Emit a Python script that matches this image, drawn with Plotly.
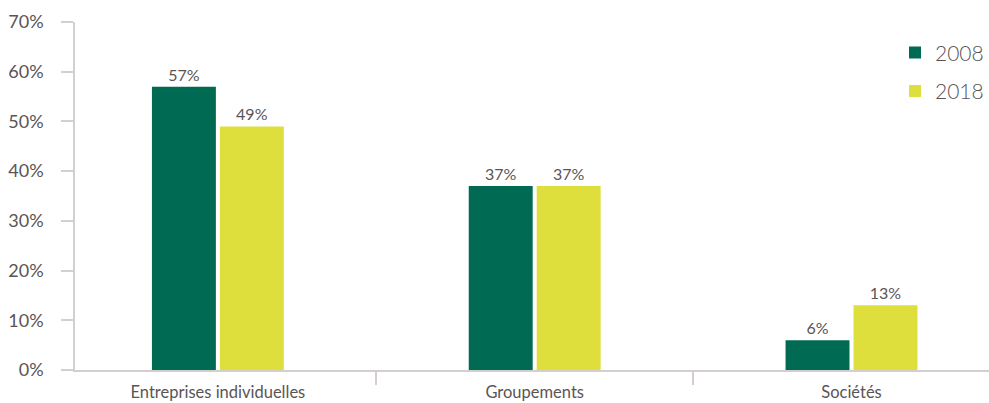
import plotly.graph_objects as go

categories = ["Entreprises individuelles", "Groupements", "Sociétés"]
values_2008 = [57, 37, 6]
values_2018 = [49, 37, 13]
series_names = ["2008", "2018"]
y_ticks = [0, 10, 20, 30, 40, 50, 60, 70]

GREEN = "#006A53"
YELLOW = "#DEDE3C"
TEXT = "#5A5555"
AXIS = "#D3CFCF"
FONT = "Lato, 'Open Sans', sans-serif"

fig = go.Figure()
for name, vals, col in [(series_names[0], values_2008, GREEN), (series_names[1], values_2018, YELLOW)]:
    fig.add_trace(go.Bar(
        name=name, x=categories, y=vals, marker=dict(color=col, line=dict(width=0)),
        text=[f"{v}%" for v in vals], textposition="outside",
        textfont=dict(size=16, color=TEXT, family=FONT), cliponaxis=False,
        legendgroup=name,
    ))

fig.update_layout(
    width=989, height=403,
    margin=dict(l=75, r=0, t=22, b=33, autoexpand=False),
    paper_bgcolor="white", plot_bgcolor="white",
    barmode="group", bargap=0.571, bargroupgap=0.059,
    font=dict(family=FONT, color=TEXT),
    legend=dict(x=1, xanchor="right", y=0.97, yanchor="top",
                font=dict(size=21, color=TEXT, weight=300),
                tracegroupgap=8, bgcolor="rgba(0,0,0,0)"),
    xaxis=dict(range=[-0.451, 2.434], showline=True, linecolor=AXIS, linewidth=1.5,
               ticks="outside", tickson="boundaries", ticklen=13, tickcolor=AXIS, tickwidth=1.5,
               ticklabelstandoff=6,
               tickfont=dict(size=16.5, color=TEXT), showgrid=False, zeroline=False),
    yaxis=dict(range=[0, 70], tickvals=y_ticks, ticktext=[f"{v}%" for v in y_ticks],
               showline=True, linecolor=AXIS, linewidth=1.5, ticks="outside", ticklen=12,
               tickcolor=AXIS, tickwidth=1.5, ticklabelstandoff=14,
               tickfont=dict(size=18, color=TEXT), showgrid=False, zeroline=False),
)

fig.write_html("out.html")
